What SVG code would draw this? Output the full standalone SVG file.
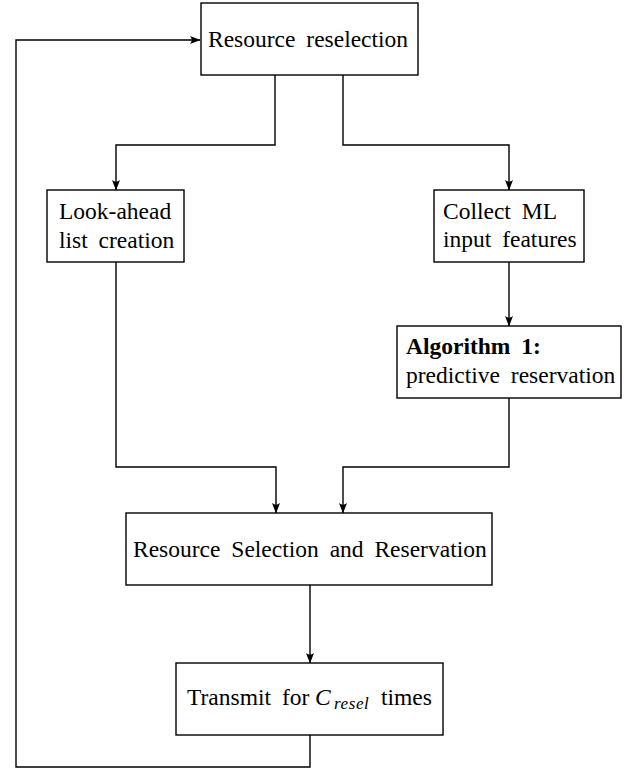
<svg xmlns="http://www.w3.org/2000/svg" width="631" height="772" viewBox="0 0 631 772">
  <style>
    .box { fill: #ffffff; stroke: #000000; stroke-width: 1.4; }
    text { font-family: "Liberation Serif", "Times New Roman", serif; font-size: 23.5px; fill: #000000; word-spacing: 5px; }
    .bold { font-weight: bold; }
    .it { font-style: italic; }
    .conn { fill: none; stroke: #000000; stroke-width: 1.4; marker-end: url(#arrow); }
  </style>
  <defs>
    <marker id="arrow" markerUnits="userSpaceOnUse" markerWidth="14" markerHeight="10" viewBox="-11 -5 12 10" refX="0" refY="0" orient="auto">
      <path d="M0.5,0 L-10,-4 Q-6.5,0 -10,4 Z" fill="#000000"/>
    </marker>
  </defs>
  <rect width="631" height="772" fill="#ffffff"/>

  <g id="connectors">
    <path class="conn" d="M310,735 V767 H16 V40 H200"/>
    <path class="conn" d="M275,75 V145 H116 V190"/>
    <path class="conn" d="M343,75 V145 H509 V190"/>
    <path class="conn" d="M509,262 V326"/>
    <path class="conn" d="M116,262 V467 H276 V513"/>
    <path class="conn" d="M509,398 V467 H343 V513"/>
    <path class="conn" d="M310,585 V663"/>
  </g>

  <g id="node-reselection">
    <rect class="box" x="201" y="3" width="217" height="72"/>
    <text x="208" y="47">Resource reselection</text>
  </g>

  <g id="node-lookahead">
    <rect class="box" x="47" y="190" width="137" height="72"/>
    <text x="59" y="219">Look-ahead</text>
    <text x="59" y="248">list creation</text>
  </g>

  <g id="node-collect">
    <rect class="box" x="434" y="190" width="150" height="72"/>
    <text x="443" y="219">Collect ML</text>
    <text x="443" y="247">input features</text>
  </g>

  <g id="node-algorithm">
    <rect class="box" x="397" y="326" width="224" height="72"/>
    <text class="bold" x="406" y="354">Algorithm 1:</text>
    <text x="406" y="383" word-spacing="3">predictive reservation</text>
  </g>

  <g id="node-selection">
    <rect class="box" x="126" y="513" width="366" height="72"/>
    <text x="133" y="557">Resource Selection and Reservation</text>
  </g>

  <g id="node-transmit">
    <rect class="box" x="176" y="663" width="267" height="72"/>
    <text x="187" y="705" word-spacing="3">Transmit for <tspan class="it" x="315">C</tspan><tspan class="it" x="334" dy="4" font-size="17" letter-spacing="0.6">resel</tspan><tspan x="381" dy="-4">times</tspan></text>
  </g>
</svg>
